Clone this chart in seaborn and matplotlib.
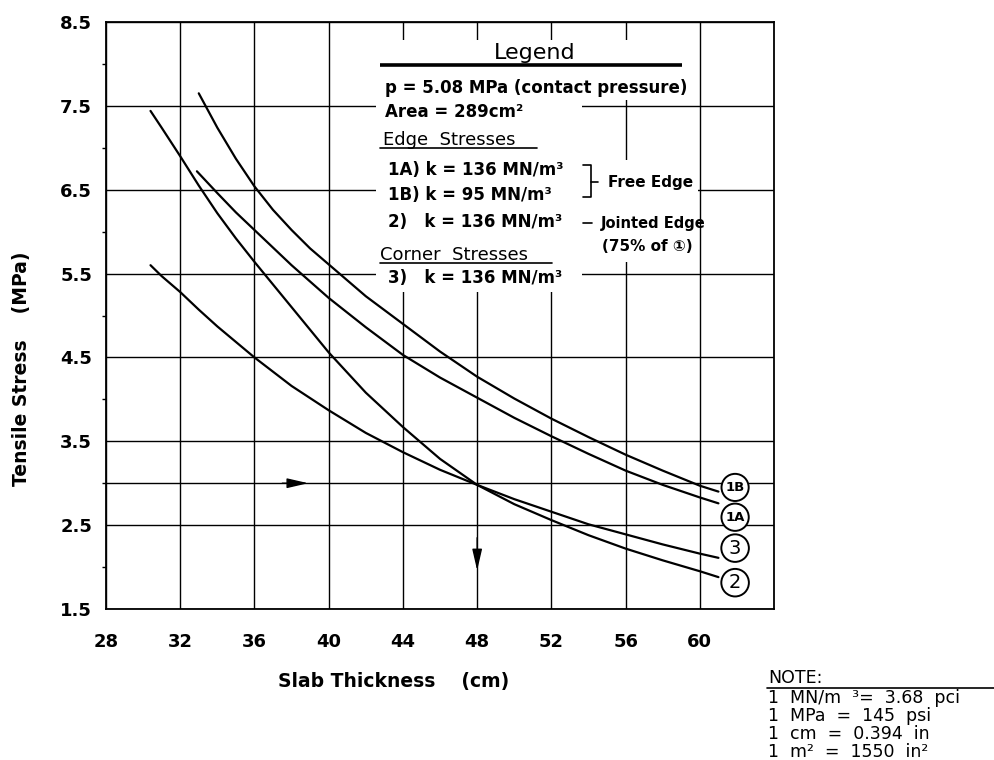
import pandas as pd
import matplotlib
matplotlib.use("Agg")
import matplotlib.pyplot as plt
from matplotlib.patches import Rectangle
from matplotlib.lines import Line2D
import seaborn as sns


# curves: slab thickness (cm) vs tensile stress (MPa)
thick_1b = [33, 34, 35, 36, 37, 38, 39, 40, 42, 44, 46, 48, 50, 52, 54, 56, 58, 60, 61]
stress_1b = [7.65, 7.24, 6.87, 6.54, 6.26, 6.02, 5.80, 5.61, 5.23, 4.90, 4.57, 4.27, 4.01, 3.77, 3.55, 3.34, 3.15, 2.97, 2.90]

thick_1a = [32.9, 34, 35, 36, 38, 40, 42, 44, 46, 48, 50, 52, 54, 56, 58, 60, 61]
stress_1a = [6.72, 6.46, 6.23, 6.02, 5.60, 5.21, 4.86, 4.53, 4.26, 4.02, 3.78, 3.56, 3.35, 3.15, 2.98, 2.83, 2.76]

thick_2 = [30.4, 31, 32, 33, 34, 35, 36, 38, 40, 42, 44, 46, 48, 50, 52, 54, 56, 58, 60, 61]
stress_2 = [7.44, 7.24, 6.90, 6.55, 6.22, 5.92, 5.64, 5.10, 4.56, 4.08, 3.67, 3.29, 2.98, 2.75, 2.56, 2.38, 2.22, 2.08, 1.95, 1.88]

thick_3 = [30.4, 31, 32, 33, 34, 36, 38, 40, 42, 44, 46, 48, 50, 52, 54, 56, 58, 60, 61]
stress_3 = [5.60, 5.47, 5.28, 5.07, 4.87, 4.50, 4.16, 3.87, 3.60, 3.37, 3.16, 2.98, 2.81, 2.66, 2.51, 2.39, 2.27, 2.16, 2.11]

curve_names = ["1B", "1A", "3", "2"]
x_ticks = [28, 32, 36, 40, 44, 48, 52, 56, 60]
y_ticks = [1.5, 2.5, 3.5, 4.5, 5.5, 6.5, 7.5, 8.5]
y_minor = [2.0, 3.0, 4.0, 5.0, 6.0, 7.0, 8.0]

# design example: 3.0 MPa allowable -> 48 cm slab
design_stress = 3.0
design_thickness = 48

note_lines = ["1  MN/m  ³=  3.68  pci", "1  MPa  =  145  psi", "1  cm  =  0.394  in", "1  m²  =  1550  in²"]


df = pd.concat([
    pd.DataFrame({"thickness": thick_1b, "stress": stress_1b, "curve": "1B"}),
    pd.DataFrame({"thickness": thick_1a, "stress": stress_1a, "curve": "1A"}),
    pd.DataFrame({"thickness": thick_3, "stress": stress_3, "curve": "3"}),
    pd.DataFrame({"thickness": thick_2, "stress": stress_2, "curve": "2"}),
])

sns.set_style("white")
plt.rcParams["font.family"] = ["DejaVu Sans", "Noto Sans CJK JP"]
plt.rcParams["text.color"] = "black"
plt.rcParams["axes.labelcolor"] = "black"
plt.rcParams["xtick.color"] = "black"
plt.rcParams["ytick.color"] = "black"

fig, ax = plt.subplots(figsize=(9.95, 7.6), dpi=100)
fig.subplots_adjust(left=0.1065, right=0.778, top=0.971, bottom=0.1987)

sns.lineplot(data=df, x="thickness", y="stress", units="curve", estimator=None,
             sort=False, color="black", lw=1.6, ax=ax)

ax.set_xlim(28, 64)
ax.set_ylim(1.5, 8.5)
ax.set_xticks(x_ticks)
ax.set_yticks(y_ticks)
ax.set_yticklabels([f"{v:.1f}" for v in y_ticks])
ax.set_yticks(y_minor, minor=True)
ax.grid(True, which="major", color="black", lw=1.0)
ax.axhline(design_stress, color="black", lw=1.0, zorder=0.6)
ax.tick_params(which="major", length=0, labelsize=13)
ax.tick_params(axis="x", pad=17)
ax.tick_params(axis="y", pad=10)
ax.tick_params(axis="y", which="minor", left=True, length=3, width=1, direction="out")
for lbl in ax.get_xticklabels() + ax.get_yticklabels():
    lbl.set_fontweight("bold")
for sp in ax.spines.values():
    sp.set_color("black")
    sp.set_linewidth(1.3)

ax.set_xlabel("Slab Thickness    (cm)", fontsize=13.5, fontweight="bold")
ax.set_ylabel("Tensile Stress    (MPa)", fontsize=13.5, fontweight="bold")
ax.xaxis.set_label_coords(0.431, -0.108)
ax.yaxis.set_label_coords(-0.112, 0.41)

# arrow heads on the design lines
head = "-|>,head_length=1.3,head_width=0.3"
ax.annotate("", xy=(38.9, design_stress), xytext=(37.5, design_stress),
            arrowprops=dict(arrowstyle=head, color="black", lw=1.0, shrinkA=0, shrinkB=0))
ax.annotate("", xy=(design_thickness, 1.96), xytext=(design_thickness, 2.35),
            arrowprops=dict(arrowstyle=head, color="black", lw=1.0, shrinkA=0, shrinkB=0))

# curve labels in circles
offsets = {"1B": (12, 3), "1A": (12, -10), "3": (12, 7), "2": (12, -4)}
for name in curve_names:
    sub = df[df["curve"] == name]
    big = name in ("2", "3")
    ax.annotate(name, xy=(sub["thickness"].iloc[-1], sub["stress"].iloc[-1]),
                xytext=offsets[name], textcoords="offset points", ha="center", va="center",
                fontsize=14 if big else 9.5, fontweight="normal" if big else "bold",
                bbox=dict(boxstyle="circle,pad=0.22" if big else "circle,pad=0.3",
                          fc="white", ec="black", lw=1.4))

# legend block, white backing hides the grid behind it
for x0, y0, w, h in [(0.404, 0.867, 0.470, 0.102), (0.404, 0.540, 0.309, 0.327),
                     (0.713, 0.591, 0.173, 0.174)]:
    ax.add_patch(Rectangle((x0, y0), w, h, transform=ax.transAxes, fc="white", ec="none", zorder=1))

tr = ax.transAxes
ax.text(0.642, 0.947, "Legend", transform=tr, ha="center", va="center", fontsize=16)
ax.plot([0.410, 0.862], [0.927, 0.927], transform=tr, color="black", lw=2.6, solid_capstyle="butt")
bold = dict(transform=tr, va="center", fontsize=12, fontweight="bold")
ax.text(0.418, 0.888, "p = 5.08 MPa (contact pressure)", **bold)
ax.text(0.418, 0.847, "Area = 289cm²", **bold)
ax.text(0.415, 0.799, "Edge  Stresses", transform=tr, va="center", fontsize=13)
ax.plot([0.410, 0.645], [0.786, 0.786], transform=tr, color="black", lw=1.2)
ax.text(0.422, 0.748, "1A) k = 136 MN/m³", **bold)
ax.text(0.422, 0.705, "1B) k = 95 MN/m³", **bold)
ax.plot([0.714, 0.726, 0.726, 0.714], [0.756, 0.756, 0.702, 0.702], transform=tr, color="black", lw=1.2)
ax.plot([0.726, 0.737], [0.727, 0.727], transform=tr, color="black", lw=1.2)
ax.text(0.751, 0.727, "Free Edge", transform=tr, va="center", fontsize=11, fontweight="bold")
ax.text(0.422, 0.659, "2)   k = 136 MN/m³", **bold)
ax.plot([0.714, 0.728], [0.657, 0.657], transform=tr, color="black", lw=1.2)
ax.text(0.740, 0.656, "Jointed Edge", transform=tr, va="center", fontsize=10.5, fontweight="bold")
ax.text(0.743, 0.617, "(75% of ①)", transform=tr, va="center", fontsize=11, fontweight="bold")
ax.text(0.410, 0.603, "Corner  Stresses", transform=tr, va="center", fontsize=13)
ax.plot([0.410, 0.667], [0.589, 0.589], transform=tr, color="black", lw=1.2)
ax.text(0.422, 0.564, "3)   k = 136 MN/m³", **bold)

# unit conversion note
fig.text(0.772, 0.108, "NOTE:", fontsize=12.5, va="center")
fig.add_artist(Line2D([0.771, 1.0], [0.095, 0.095], transform=fig.transFigure, color="black", lw=1.2))
for i, line in enumerate(note_lines):
    fig.text(0.772, 0.081 - i * 0.0235, line, fontsize=12.5, va="center")

fig.savefig("out.png", dpi=100)
